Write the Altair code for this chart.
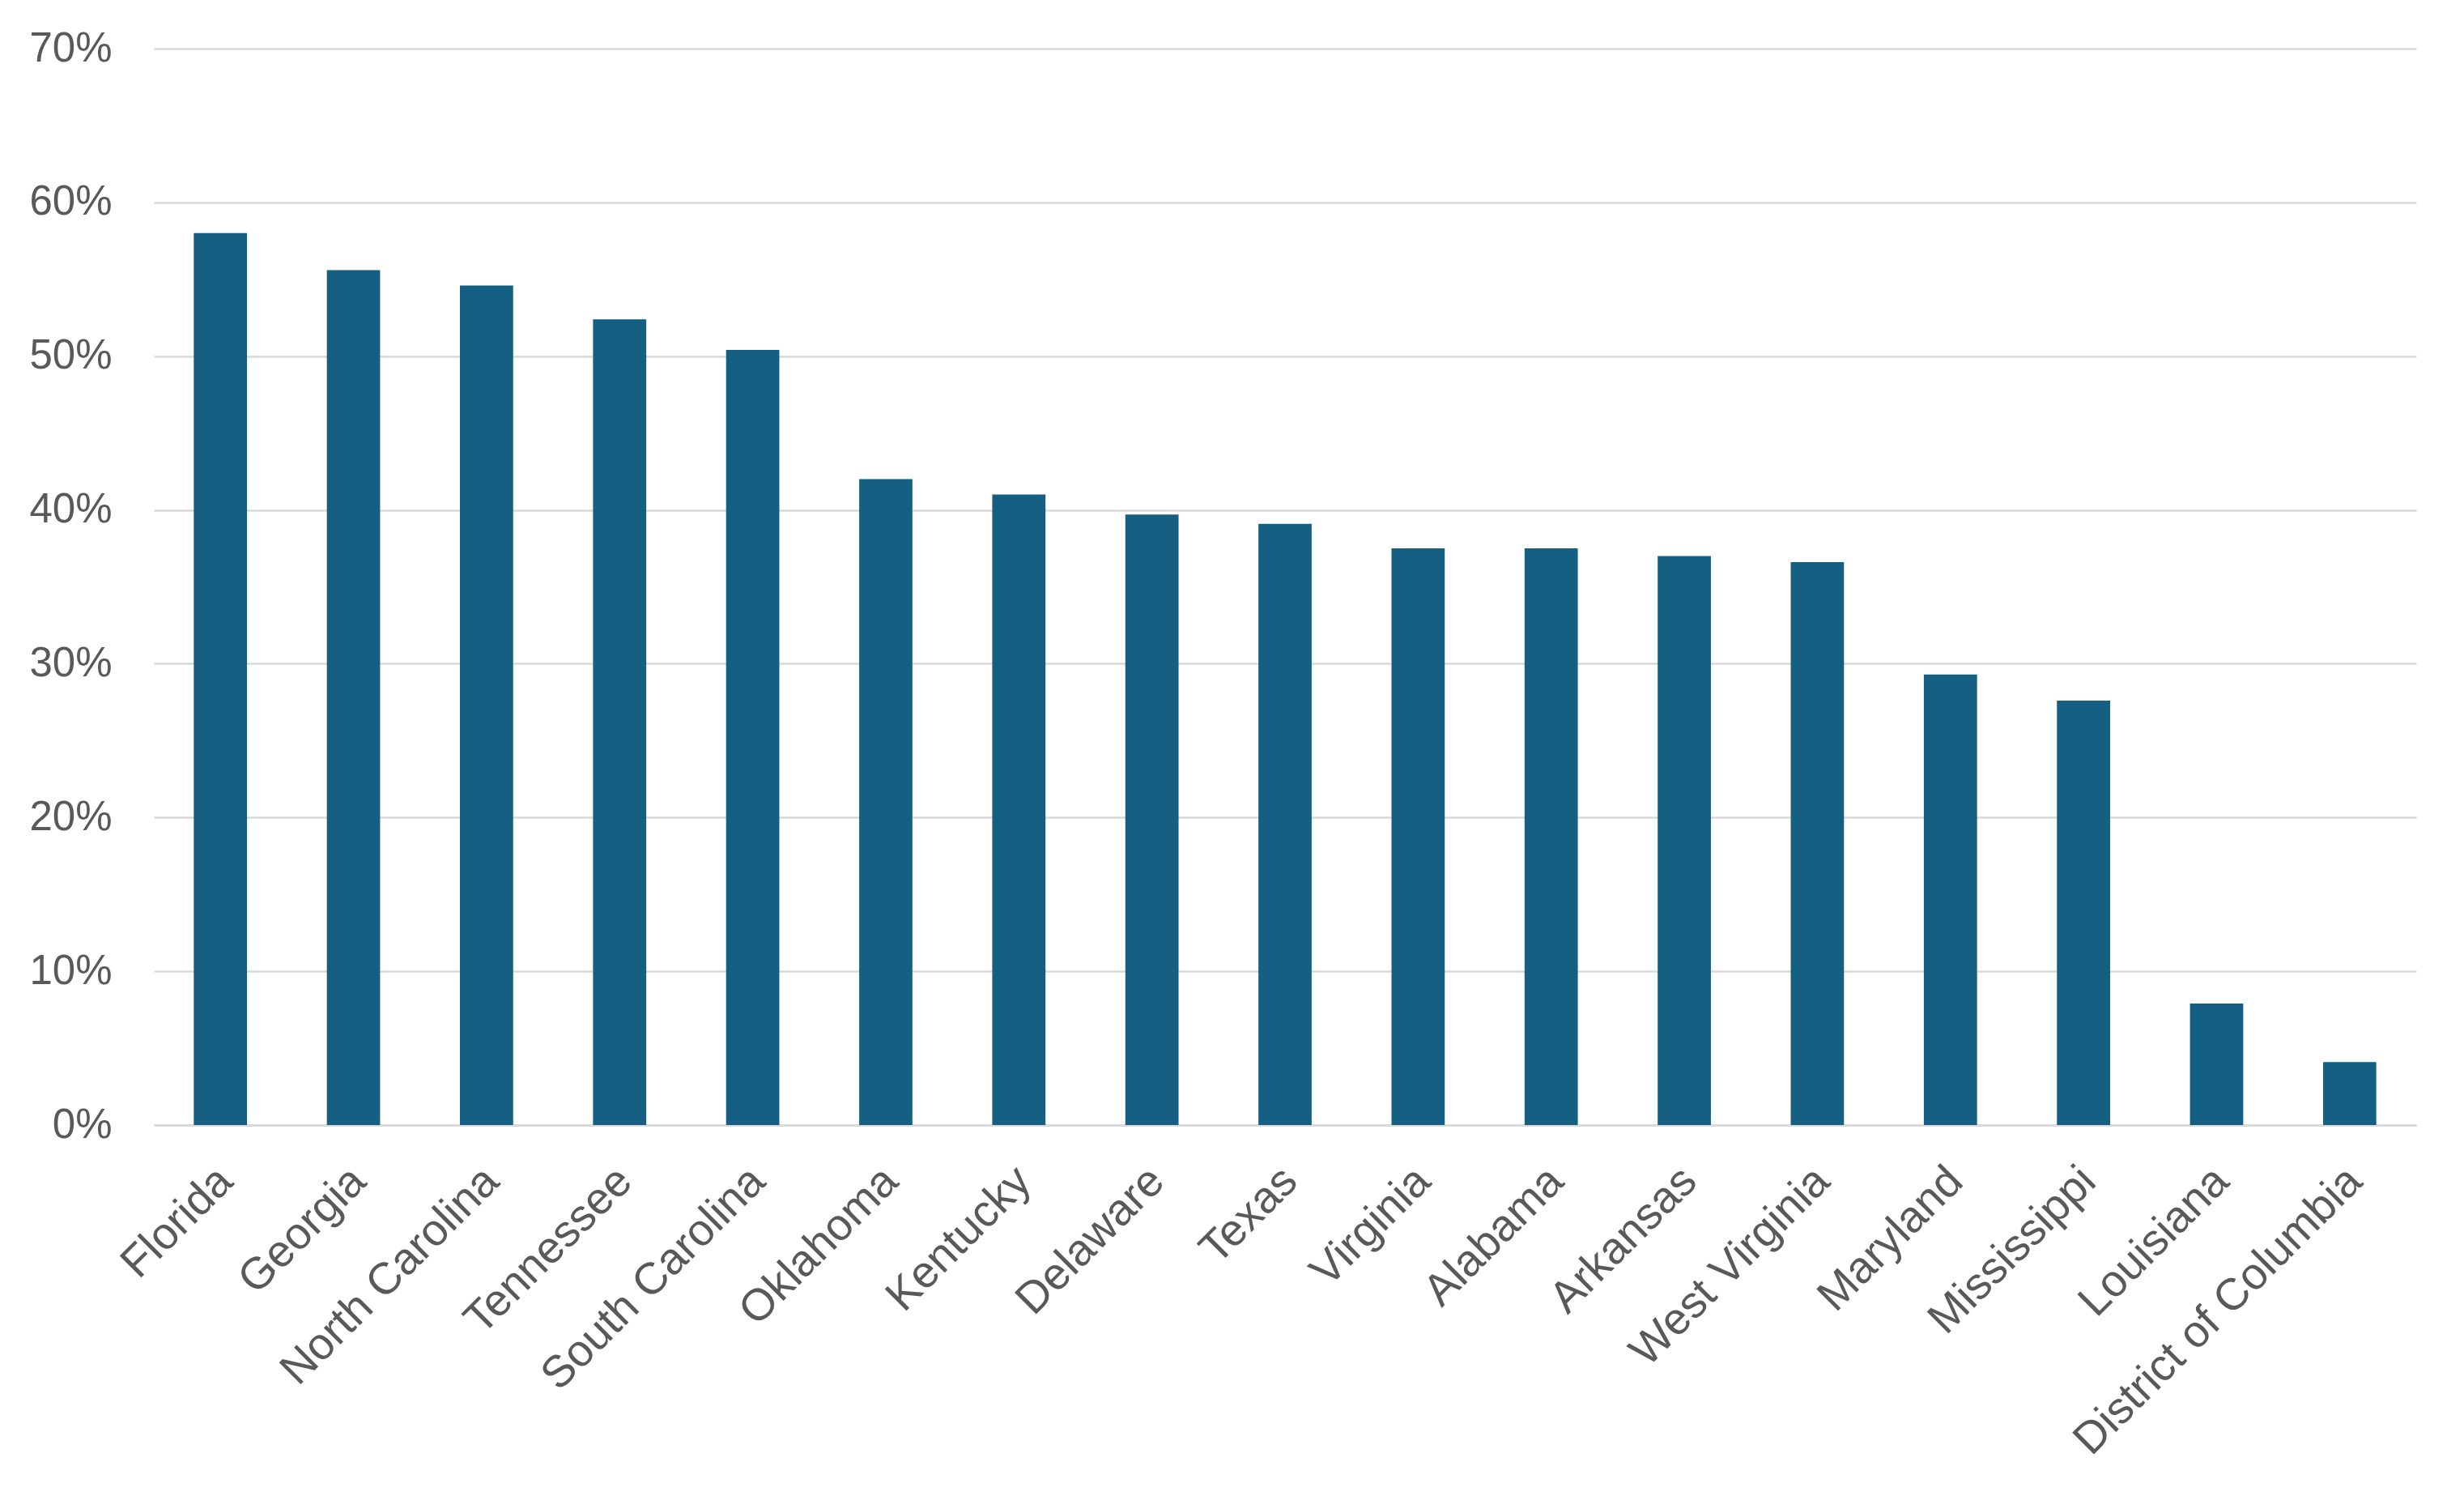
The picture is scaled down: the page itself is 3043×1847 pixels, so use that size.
import altair as alt
import pandas as pd

# ─── Data ─────────────────────────────────────────────────────────────────────

states = [
    "Florida", "Georgia", "North Carolina", "Tennessee", "South Carolina",
    "Oklahoma", "Kentucky", "Delaware", "Texas", "Virginia", "Alabama",
    "Arkansas", "West Virginia", "Maryland", "Mississippi", "Louisiana",
    "District of Columbia",
]
shares = [
    0.580, 0.556, 0.546, 0.524, 0.504,
    0.420, 0.410, 0.397, 0.391, 0.375, 0.375,
    0.370, 0.366, 0.293, 0.276, 0.079,
    0.041,
]
y_ticks = [0.0, 0.1, 0.2, 0.3, 0.4, 0.5, 0.6, 0.7]

df = pd.DataFrame({"state": states, "share": shares})

# ─── Style ────────────────────────────────────────────────────────────────────

BAR_COLOR  = "#156082"
TEXT_COLOR = "#595959"
GRID_COLOR = "#D9D9D9"
FONT       = "Liberation Sans"

chart = (
    alt.Chart(df)
    .mark_bar(color=BAR_COLOR)
    .encode(
        x=alt.X(
            "state:N",
            sort=states,
            title=None,
            scale=alt.Scale(paddingInner=0.6, paddingOuter=0.3),
            axis=alt.Axis(
                labelAngle=-45, labelAlign="right", labelBaseline="middle",
                labelPadding=60, labelOffset=6,
                ticks=False, tickSize=0, domain=True, grid=False,
                domainColor=GRID_COLOR, domainWidth=2.5,
                labelFontSize=55, labelColor=TEXT_COLOR, labelFont=FONT,
                labelOverlap=False, labelLimit=0,
            ),
        ),
        y=alt.Y(
            "share:Q",
            title=None,
            scale=alt.Scale(domain=[0, 0.7], nice=False),
            axis=alt.Axis(
                values=y_ticks, format=".0%",
                ticks=False, tickSize=0, domain=False,
                grid=True, gridColor=GRID_COLOR, gridWidth=2.5,
                labelPadding=52, labelFontSize=51,
                labelColor=TEXT_COLOR, labelFont=FONT,
            ),
        ),
    )
    .properties(
        width=2794, height=1329,
        background="#ffffff",
        autosize=alt.AutoSizeParams(type="none"),
        padding={"left": 182, "top": 52, "right": 51, "bottom": 450},
    )
    .configure_view(strokeOpacity=0, strokeWidth=0)
)

chart.save("out.html", embed_options={"renderer": "svg", "actions": False})
